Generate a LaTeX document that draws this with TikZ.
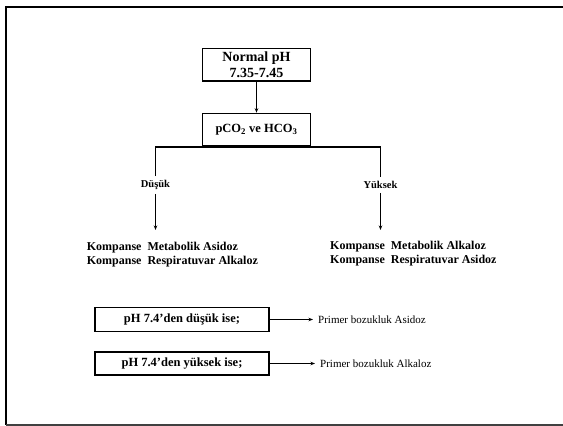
\documentclass[tikz,border=0pt]{standalone}
\usepackage{fontspec}
\setmainfont{Liberation Serif}
\usetikzlibrary{arrows.meta}
\begin{document}
\begin{tikzpicture}[x=1pt,y=-1pt,
  kutu/.style={draw,line width=1.2pt,inner sep=0pt,align=center},
  altkutu/.style={kutu,minimum width=174pt,minimum height=23.5pt,font=\fontsize{12.5}{14}\selectfont\bfseries},
  ok/.style={line width=0.9pt,-{Stealth[length=4.5pt,width=3.5pt]}},
  etiket/.style={inner sep=4pt,font=\fontsize{10.5}{12}\selectfont\bfseries},
  sonuc/.style={align=left,inner sep=0pt,font=\fontsize{12}{14}\selectfont\bfseries},
  primer/.style={inner sep=5pt,font=\fontsize{11}{12}\selectfont}]
\useasboundingbox (0,0) rectangle (563,426);
\draw[line width=2pt] (563,6.5) -- (6,6.5) -- (6,425);
\draw[line width=1.2pt,black!75] (6,425) -- (563,425);
\node[kutu,minimum width=107.6pt,minimum height=32.7pt,font=\fontsize{14}{16.5}\selectfont\bfseries] (normal) at (256.5,64.7) {Normal pH\\7.35-7.45};
\node[kutu,minimum width=107.6pt,minimum height=32.7pt,font=\fontsize{12.5}{14}\selectfont\bfseries] (gaz) at (256.5,129.7) {pCO\textsubscript{2} ve HCO\textsubscript{3}};
\draw[ok] (normal) -- (gaz);
\node[etiket] (dusuk) at (155.5,185) {Düşük};
\node[etiket] (yuksek) at (380.5,185) {Yüksek};
\coordinate (sol) at (155.5,147);
\coordinate (sag) at (380.5,147);
\draw[line width=1.6pt] (dusuk) -- (sol) -- (sag) -- (yuksek);
\node[sonuc,anchor=north west] (solsonuc) at (86.7,242) {Kompanse~~Metabolik Asidoz\\Kompanse~~Respiratuvar Alkaloz};
\node[sonuc,anchor=north west] (sagsonuc) at (330,240.5) {Kompanse~~Metabolik Alkaloz\\Kompanse~~Respiratuvar Asidoz};
\draw[ok,shorten >=12pt] (dusuk) -- (dusuk |- solsonuc.north);
\draw[ok,shorten >=10.5pt] (yuksek) -- (yuksek |- sagsonuc.north);
\node[altkutu] (dusukise) at (182,319.5) {pH 7.4'den düşük ise;};
\node[primer,anchor=west] (asidoz) at (313,319.5) {Primer bozukluk Asidoz};
\draw[ok] (dusukise) -- (asidoz);
\node[altkutu,line width=1.6pt] (yuksekise) at (182,363.5) {pH 7.4'den yüksek ise;};
\node[primer,anchor=west] (alkaloz) at (315,363.5) {Primer bozukluk Alkaloz};
\draw[ok] (yuksekise) -- (alkaloz);
\end{tikzpicture}
\end{document}
